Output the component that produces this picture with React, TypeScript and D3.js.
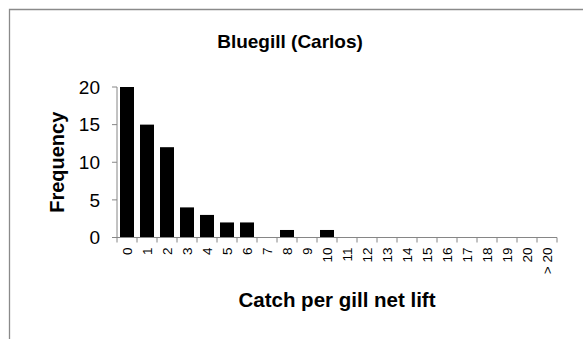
import React from "react";
import * as d3 from "d3";

const categories: string[] = [
  "0", "1", "2", "3", "4", "5", "6", "7", "8", "9", "10",
  "11", "12", "13", "14", "15", "16", "17", "18", "19", "20", "> 20",
];
const frequency: number[] = [20, 15, 12, 4, 3, 2, 2, 0, 1, 0, 1, 0, 0, 0, 0, 0, 0, 0, 0, 0, 0, 0];
const yTicks: number[] = [0, 5, 10, 15, 20];

const title = "Bluegill (Carlos)";
const xTitle = "Catch per gill net lift";
const yTitle = "Frequency";

const W = 583;
const H = 339;
const left = 117;
const right = 557;
const top = 87;
const bottom = 237.5;
const font = "'Liberation Sans', Arial, sans-serif";
const axisColor = "#868686";

export default function App() {
  const x = d3.scaleBand<string>().domain(categories).range([left, right]).paddingInner(0.3).paddingOuter(0.15);
  const xb = d3.scaleBand<string>().domain(categories).range([left, right]);
  const y = d3.scaleLinear().domain([0, 20]).range([bottom, top]);

  const boundaries = categories.map((c) => xb(c) as number).concat([right]);

  return (
    <svg width={W} height={H} style={{ position: "absolute", left: 0, top: 0 }}>
      <rect x={0} y={0} width={W} height={H} fill="#fff" />
      <path d={`M9.5,${H + 2}V9.5H${W + 2}`} fill="none" stroke="#8a8a8a" strokeWidth={1.3} />
      <text x={290} y={48} textAnchor="middle" fontFamily={font} fontWeight="bold" fontSize={19}>
        {title}
      </text>

      {frequency.map((v, i) => (
        <rect
          key={categories[i]}
          x={x(categories[i])}
          y={y(v)}
          width={x.bandwidth()}
          height={bottom - y(v)}
          fill="#000"
        />
      ))}

      {/* y axis */}
      <line x1={left} x2={left} y1={top} y2={bottom} stroke={axisColor} strokeWidth={1} />
      {yTicks.map((t) => (
        <g key={t}>
          <line x1={left - 5} x2={left} y1={y(t)} y2={y(t)} stroke={axisColor} />
          <text x={100} y={y(t)} dy="0.35em" textAnchor="end" fontFamily={font} fontSize={19}>
            {t}
          </text>
        </g>
      ))}

      {/* x axis */}
      <line x1={left - 5} x2={right} y1={bottom} y2={bottom} stroke={axisColor} />
      {boundaries.map((b, i) => (
        <line key={i} x1={b} x2={b} y1={bottom} y2={bottom + 5} stroke={axisColor} />
      ))}
      {categories.map((c) => {
        const cx = (xb(c) as number) + xb.bandwidth() / 2;
        return (
          <text
            key={c}
            transform={`translate(${cx + 5},${bottom + 10}) rotate(-90)`}
            textAnchor="end"
            fontFamily={font}
            fontSize={13.5}
          >
            {c}
          </text>
        );
      })}

      <text x={337} y={307} textAnchor="middle" fontFamily={font} fontWeight="bold" fontSize={20.5}>
        {xTitle}
      </text>
      <text
        transform={`translate(64,${(top + bottom) / 2}) rotate(-90)`}
        textAnchor="middle"
        fontFamily={font}
        fontWeight="bold"
        fontSize={20}
      >
        {yTitle}
      </text>
    </svg>
  );
}
